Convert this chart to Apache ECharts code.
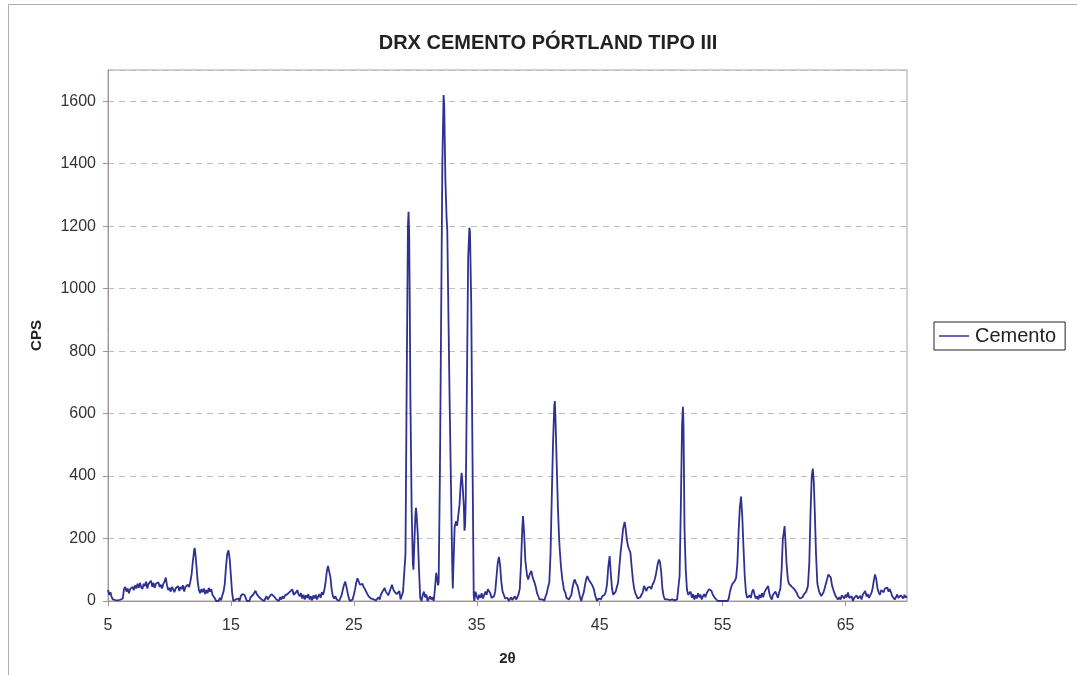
<!DOCTYPE html>
<html>
<head>
<meta charset="utf-8">
<script src="https://cdn.jsdelivr.net/npm/echarts@6/dist/echarts.min.js"></script>
<style>
html,body{margin:0;padding:0;background:#fff;}
#chart{width:1077px;height:675px;}
</style>
</head>
<body>
<div id="chart"></div>
<script>
// [2θ, CPS] pairs, split by region
var seg5to15 = [
[5.0,35],[5.1,20],[5.2,28],[5.3,12],[5.4,5],[5.5,0],[5.6,3],[5.7,0],[5.8,2],[5.9,0],[6.0,4],[6.1,0],[6.2,8],[6.3,38],[6.4,45],[6.5,30],[6.6,40],[6.7,25],[6.8,38],[6.9,32],
[7.0,45],[7.1,35],[7.2,50],[7.3,40],[7.4,55],[7.5,42],[7.6,58],[7.7,45],[7.8,38],[7.9,55],[8.0,48],[8.1,62],[8.2,40],[8.3,55],[8.4,50],[8.5,65],[8.6,45],[8.7,58],[8.8,42],[8.9,55],
[9.0,50],[9.1,60],[9.2,45],[9.3,52],[9.4,40],[9.5,55],[9.6,62],[9.7,75],[9.8,50],[9.9,35],[10.0,42],[10.1,30],[10.2,45],[10.3,38],[10.4,28],[10.5,40],[10.6,35],[10.7,48],[10.8,32],[10.9,45],
[11.0,38],[11.1,50],[11.2,30],[11.3,45],[11.4,40],[11.5,52],[11.6,45],[11.7,62],[11.8,85],[11.9,125],[12.0,160],[12.05,170],[12.1,155],[12.2,110],[12.3,60],[12.4,35],[12.5,25],[12.6,38],[12.7,28],[12.8,40],
[12.9,22],[13.0,35],[13.1,25],[13.2,42],[13.3,30],[13.4,38],[13.5,20],[13.6,25],[13.7,8],[13.8,0],[13.9,5],[14.0,0],[14.1,10],[14.2,2],[14.3,18],[14.4,30],[14.5,55],[14.6,110],[14.7,150],[14.8,162],
[14.9,135],[15.0,80],[15.1,25],[15.2,0],[15.3,0],[15.4,5],[15.5,0]
];
var seg15to29 = [
[15.6,8],[15.7,0],[15.8,15],[15.9,22],[16.0,28],[16.1,20],[16.2,10],[16.3,0],[16.4,5],[16.5,0],[16.6,12],[16.7,8],[16.8,20],[16.9,25],[17.0,33],[17.1,22],[17.2,28],[17.3,12],[17.4,18],[17.5,5],
[17.6,10],[17.7,0],[17.8,8],[17.9,15],[18.0,5],[18.1,12],[18.2,18],[18.3,22],[18.4,28],[18.5,15],[18.6,20],[18.7,5],[18.8,10],[18.9,0],[19.0,12],[19.1,5],[19.2,15],[19.3,8],[19.4,18],[19.5,12],
[19.6,22],[19.7,18],[19.8,30],[19.9,25],[20.0,37],[20.1,20],[20.2,15],[20.3,28],[20.4,35],[20.5,22],[20.6,15],[20.7,25],[20.8,8],[20.9,20],[21.0,5],[21.1,18],[21.2,10],[21.3,22],[21.4,5],[21.5,15],
[21.6,2],[21.7,18],[21.8,8],[21.9,20],[22.0,5],[22.1,15],[22.2,22],[22.3,10],[22.4,28],[22.5,20],[22.6,35],[22.7,60],[22.8,95],[22.9,112],[22.95,118],[23.0,110],[23.1,75],[23.2,35],[23.3,15],[23.4,8],
[23.5,15],[23.6,5],[23.7,0],[23.8,0],[23.9,2],[24.0,18],[24.1,35],[24.2,52],[24.3,62],[24.4,45],[24.5,25],[24.6,8],[24.7,0],[24.8,0],[24.9,5],[25.0,20],[25.1,38],[25.2,60],[25.3,73],[25.4,62],
[25.5,52],[25.6,48],[25.7,55],[25.8,45],[25.9,38],[26.0,30],[26.1,22],[26.2,15],[26.3,18],[26.4,8],[26.5,12],[26.6,5],[26.7,10],[26.8,2],[26.9,8],[27.0,12],[27.1,5],[27.2,20],[27.3,28],[27.4,35],
[27.5,42],[27.6,30],[27.7,35],[27.8,18],[27.9,22],[28.0,40],[28.1,52],[28.2,38],[28.3,30],[28.4,35],[28.5,22],[28.6,28],[28.7,32],[28.8,5],[28.9,10],[29.0,30]
];
var seg29to35 = [
[29.1,25],[29.2,150],[29.3,700],[29.4,1200],[29.45,1246],[29.5,1180],[29.55,950],[29.6,650],[29.65,480],[29.7,300],[29.8,120],[29.85,100],[29.9,160],[30.0,270],[30.05,298],[30.1,280],[30.2,214],[30.3,100],[30.4,10],[30.5,0],
[30.6,18],[30.7,30],[30.8,12],[30.9,20],[31.0,0],[31.1,8],[31.2,15],[31.3,5],[31.4,12],[31.5,0],[31.6,40],[31.7,90],[31.8,65],[31.85,50],[31.9,60],[32.0,400],[32.1,900],[32.2,1400],[32.3,1620],[32.35,1590],
[32.45,1345],[32.55,1220],[32.6,1190],[32.7,900],[32.8,620],[32.9,376],[33.0,120],[33.05,40],[33.1,110],[33.2,236],[33.3,255],[33.4,241],[33.5,275],[33.6,310],[33.7,380],[33.77,410],[33.85,370],[33.95,300],[34.0,225],[34.05,240],
[34.1,320],[34.2,700],[34.3,1100],[34.4,1195],[34.45,1180],[34.55,950],[34.6,700],[34.7,250],[34.75,20],[34.8,0],[34.9,30],[35.0,15]
];
var seg35to48 = [
[35.1,5],[35.2,20],[35.3,10],[35.4,25],[35.5,8],[35.6,18],[35.7,30],[35.8,20],[35.9,38],[36.0,42],[36.1,25],[36.2,10],[36.3,5],[36.4,15],[36.5,30],[36.6,75],[36.7,120],[36.8,141],[36.9,115],[37.0,60],
[37.1,30],[37.2,20],[37.3,8],[37.4,2],[37.5,10],[37.6,0],[37.7,5],[37.8,12],[37.9,3],[38.0,8],[38.1,15],[38.2,5],[38.3,12],[38.4,22],[38.5,40],[38.6,120],[38.7,230],[38.76,272],[38.85,220],[38.95,130],
[39.0,112],[39.1,80],[39.18,69],[39.3,85],[39.44,96],[39.55,75],[39.7,59],[39.8,45],[39.9,25],[40.0,16],[40.1,5],[40.2,0],[40.3,5],[40.4,10],[40.5,2],[40.6,15],[40.7,25],[40.8,45],[40.9,59],[41.0,150],
[41.1,330],[41.2,500],[41.3,620],[41.35,640],[41.4,590],[41.5,443],[41.6,300],[41.7,200],[41.75,165],[41.85,110],[41.96,69],[42.1,35],[42.2,27],[42.3,10],[42.4,15],[42.5,5],[42.6,2],[42.7,20],[42.8,45],[42.9,62],
[42.97,69],[43.1,55],[43.2,48],[43.3,30],[43.4,12],[43.5,0],[43.6,15],[43.7,27],[43.8,50],[43.9,70],[44.0,80],[44.1,68],[44.26,59],[44.4,50],[44.53,37],[44.65,15],[44.78,0],[44.9,8],[45.0,12],[45.1,5],
[45.2,15],[45.3,10],[45.4,20],[45.5,30],[45.6,55],[45.7,110],[45.81,144],[45.9,90],[46.0,40],[46.1,20],[46.2,16],[46.3,30],[46.4,25],[46.5,60],[46.6,110],[46.7,155],[46.8,190],[46.9,230],[47.03,253],[47.1,235],
[47.2,200],[47.3,176],[47.4,165],[47.5,155],[47.6,110],[47.7,69],[47.8,40],[47.9,25],[48.0,16],[48.1,8],[48.2,5],[48.3,12],[48.4,20],[48.5,27]
];
var seg48to60 = [
[48.6,48],[48.7,40],[48.8,32],[48.9,43],[49.0,37],[49.1,45],[49.2,38],[49.3,53],[49.4,60],[49.5,72],[49.6,91],[49.7,115],[49.82,133],[49.9,125],[50.0,95],[50.1,40],[50.2,16],[50.3,5],[50.4,0],[50.5,5],
[50.6,0],[50.7,3],[50.8,0],[50.9,5],[51.0,0],[51.1,2],[51.2,0],[51.3,5],[51.4,10],[51.5,80],[51.6,300],[51.7,560],[51.77,622],[51.82,560],[51.9,230],[52.0,100],[52.1,37],[52.2,20],[52.3,16],[52.4,30],
[52.5,10],[52.6,22],[52.7,5],[52.8,18],[52.9,8],[53.0,25],[53.1,12],[53.2,20],[53.3,5],[53.4,15],[53.5,22],[53.6,12],[53.7,25],[53.8,30],[53.9,38],[54.02,43],[54.1,32],[54.2,20],[54.35,11],[54.5,5],
[54.6,0],[54.7,3],[54.8,0],[54.9,2],[55.0,0],[55.1,4],[55.2,0],[55.3,2],[55.4,0],[55.5,8],[55.6,30],[55.7,45],[55.8,55],[55.9,59],[56.0,65],[56.1,75],[56.2,120],[56.3,220],[56.4,300],[56.5,334],
[56.6,270],[56.7,170],[56.8,80],[56.9,27],[57.0,10],[57.1,5],[57.2,18],[57.3,10],[57.4,30],[57.5,37],[57.6,20],[57.7,8],[57.8,15],[57.9,5],[58.0,20],[58.1,10],[58.2,25],[58.3,12],[58.4,28],[58.5,35],
[58.6,40],[58.7,48],[58.8,25],[58.9,12],[59.0,5],[59.1,20],[59.2,15],[59.3,30],[59.4,25],[59.5,10],[59.6,27],[59.7,40],[59.8,100],[59.9,200]
];
var seg60to70 = [
[60.0,225],[60.04,240],[60.1,200],[60.2,120],[60.31,69],[60.4,55],[60.5,60],[60.58,48],[60.7,52],[60.85,37],[60.95,40],[61.05,25],[61.12,16],[61.2,20],[61.3,8],[61.4,5],[61.5,12],[61.6,20],[61.7,16],[61.8,30],
[61.94,48],[62.05,120],[62.15,280],[62.25,400],[62.34,424],[62.42,380],[62.5,283],[62.6,150],[62.7,60],[62.75,48],[62.85,30],[63.02,16],[63.1,22],[63.2,27],[63.3,40],[63.4,55],[63.5,70],[63.6,85],[63.7,91],[63.8,75],
[63.9,50],[64.0,37],[64.1,25],[64.2,15],[64.3,10],[64.38,5],[64.5,12],[64.6,5],[64.7,18],[64.8,16],[64.9,8],[65.0,20],[65.1,12],[65.2,27],[65.3,10],[65.4,5],[65.5,15],[65.6,0],[65.7,10],[65.8,5],
[65.9,18],[66.0,8],[66.1,12],[66.2,16],[66.3,5],[66.4,20],[66.5,25],[66.6,32],[66.7,15],[66.8,22],[66.9,10],[67.0,16],[67.1,25],[67.2,40],[67.3,65],[67.4,85],[67.5,70],[67.6,40],[67.7,27],[67.8,20],
[67.9,35],[68.0,37],[68.1,28],[68.2,40],[68.3,35],[68.4,43],[68.5,30],[68.6,38],[68.7,27],[68.8,15],[68.9,10],[69.0,5],[69.1,12],[69.2,21],[69.3,10],[69.4,5],[69.5,18],[69.6,16],[69.7,8],[69.8,20],
[69.9,11],[70.0,15]
];
var seriesName = 'Cemento';
var chartTitle = 'DRX CEMENTO PÓRTLAND TIPO III';
var xName = '2θ';
var yName = 'CPS';

var data = [].concat(seg5to15, seg15to29, seg29to35, seg35to48, seg48to60, seg60to70);

var FONT = 'Liberation Sans, Arial, sans-serif';
var chart = echarts.init(document.getElementById('chart'), null, {renderer: 'canvas'});
chart.setOption({
  animation: false,
  backgroundColor: '#ffffff',
  title: {
    text: chartTitle, left: 543, top: 28, textAlign: 'center',
    textStyle: {fontFamily: FONT, fontSize: 20, fontWeight: 'bold', color: '#222'}
  },
  graphic: [{
    type: 'rect', silent: true, z: -1,
    shape: {x: 8.5, y: 4.5, width: 1200, height: 1000},
    style: {fill: null, stroke: '#b3aba9', lineWidth: 1}
  }],
  legend: {
    left: 934, top: 322, orient: 'vertical',
    data: [seriesName],
    icon: 'rect', itemWidth: 30, itemHeight: 1.5, itemGap: 0,
    borderColor: '#222', borderWidth: 1, padding: [4, 9, 4, 5],
    textStyle: {fontFamily: FONT, fontSize: 20, color: '#222', padding: [2, 0, 0, 1]}
  },
  grid: {
    left: 108, right: 170, top: 70, bottom: 74,
    show: true, borderColor: '#a8a2a0', borderWidth: 1, backgroundColor: 'transparent'
  },
  xAxis: {
    type: 'value', min: 5, max: 70, interval: 10,
    name: xName, nameLocation: 'middle', nameGap: 50,
    nameTextStyle: {fontFamily: FONT, fontSize: 15, fontWeight: 'bold', color: '#222'},
    axisLine: {lineStyle: {color: '#9e9694', width: 1}},
    axisTick: {show: true, length: 5, lineStyle: {color: '#9e9694'}},
    axisLabel: {fontFamily: FONT, fontSize: 16, color: '#333', margin: 17, showMaxLabel: false},
    splitLine: {show: false}
  },
  yAxis: {
    type: 'value', min: 0, max: 1700, interval: 200,
    name: yName, nameLocation: 'middle', nameGap: 64, nameRotate: 90,
    nameTextStyle: {fontFamily: FONT, fontSize: 15, fontWeight: 'bold', color: '#222'},
    axisLine: {show: true, lineStyle: {color: '#9e9694', width: 1}},
    axisTick: {show: true, length: 5, lineStyle: {color: '#9e9694'}},
    axisLabel: {fontFamily: FONT, fontSize: 16, color: '#333', margin: 12, showMaxLabel: false,
      formatter: function (v) { return String(v); }},
    splitLine: {show: true, lineStyle: {color: '#c4bcba', type: [6, 5], width: 1}}
  },
  series: [{
    name: seriesName, type: 'line', data: data,
    showSymbol: false, symbol: 'none', smooth: false, sampling: null,
    lineStyle: {color: '#2e3192', width: 1.8},
    itemStyle: {color: '#2e3192'}
  }]
});
</script>
</body>
</html>
